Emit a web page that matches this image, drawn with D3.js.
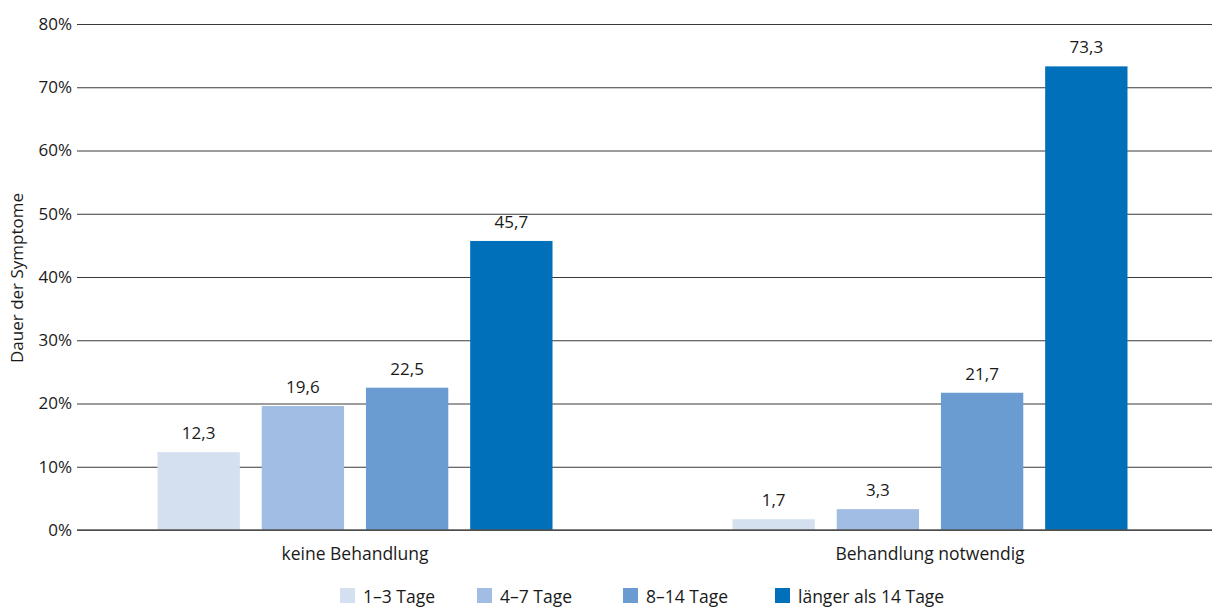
<!DOCTYPE html>
<html>
<head>
<meta charset="utf-8">
<script src="https://cdn.jsdelivr.net/npm/d3@7.9.0/dist/d3.min.js"></script>
<style>
  body { margin: 0; background: #fff; }
  svg text { font-family: "Open Sans", sans-serif; fill: #1a1a1a; }
</style>
</head>
<body>
<svg width="1213" height="608"></svg>
<script>
const categories = ['keine Behandlung', 'Behandlung notwendig'];
const series = ['1–3 Tage', '4–7 Tage', '8–14 Tage', 'länger als 14 Tage'];
const values = [
  [12.3, 19.6, 22.5, 45.7],
  [1.7, 3.3, 21.7, 73.3]
];
const yTicks = [0, 10, 20, 30, 40, 50, 60, 70, 80];
const colors = ['#d4dff0', '#a2bde3', '#6a9bd1', '#0070bb'];

const svg = d3.select('svg');
const plotLeft = 77, plotRight = 1212, plotTop = 24, plotBottom = 530;

const y = d3.scaleLinear().domain([0, 80]).range([plotBottom, plotTop]);
const x0 = d3.scaleBand().domain(categories).range([plotLeft, 1208])
  .paddingInner(0.313).paddingOuter(0.14);
const x1 = d3.scaleBand().domain(series).range([0, x0.bandwidth()])
  .paddingInner(0.21).paddingOuter(0);
const color = d3.scaleOrdinal(series, colors);

// gridlines + tick labels
const yAxis = d3.axisLeft(y).tickValues(yTicks)
  .tickSize(-(plotRight - plotLeft)).tickPadding(6)
  .tickFormat(d => d + '%');
const gy = svg.append('g').attr('transform', `translate(${plotLeft},0)`).call(yAxis);
gy.select('.domain').remove();
gy.selectAll('.tick line').attr('stroke', '#3a3a3a').attr('stroke-width', 1);
gy.selectAll('.tick text').attr('font-size', 17).attr('x', -5);

// bars
const groups = svg.append('g').selectAll('g')
  .data(categories).join('g')
  .attr('transform', d => `translate(${x0(d)},0)`);

groups.selectAll('rect')
  .data((d, i) => series.map((s, j) => ({ s, v: values[i][j] })))
  .join('rect')
  .attr('x', d => x1(d.s))
  .attr('width', x1.bandwidth())
  .attr('y', d => y(d.v))
  .attr('height', d => y(0) - y(d.v))
  .attr('fill', d => color(d.s));

groups.selectAll('text.val')
  .data((d, i) => series.map((s, j) => ({ s, v: values[i][j] })))
  .join('text')
  .attr('class', 'val')
  .attr('x', d => x1(d.s) + x1.bandwidth() / 2)
  .attr('y', d => y(d.v) - 13)
  .attr('text-anchor', 'middle')
  .attr('font-size', 17)
  .text(d => d3.format('.1f')(d.v).replace('.', ','));

// baseline
svg.append('line')
  .attr('x1', plotLeft).attr('x2', plotRight)
  .attr('y1', y(0)).attr('y2', y(0))
  .attr('stroke', '#555').attr('stroke-width', 1.3);

// category labels
svg.append('g').selectAll('text')
  .data(categories).join('text')
  .attr('x', d => x0(d) + x0.bandwidth() / 2)
  .attr('y', 560)
  .attr('text-anchor', 'middle')
  .attr('font-size', 17.5)
  .text(d => d);

// y title
svg.append('text')
  .attr('transform', 'translate(23,278) rotate(-90)')
  .attr('text-anchor', 'middle')
  .attr('font-size', 17)
  .text('Dauer der Symptome');

// legend
const legendX = [340, 477, 623, 775];
const lg = svg.append('g').selectAll('g')
  .data(series).join('g')
  .attr('transform', (d, i) => `translate(${legendX[i]},588)`);
lg.append('rect').attr('width', 15).attr('height', 15).attr('fill', d => color(d));
lg.append('text').attr('x', 23).attr('y', 15).attr('font-size', 17.5).text(d => d);
</script>
</body>
</html>
